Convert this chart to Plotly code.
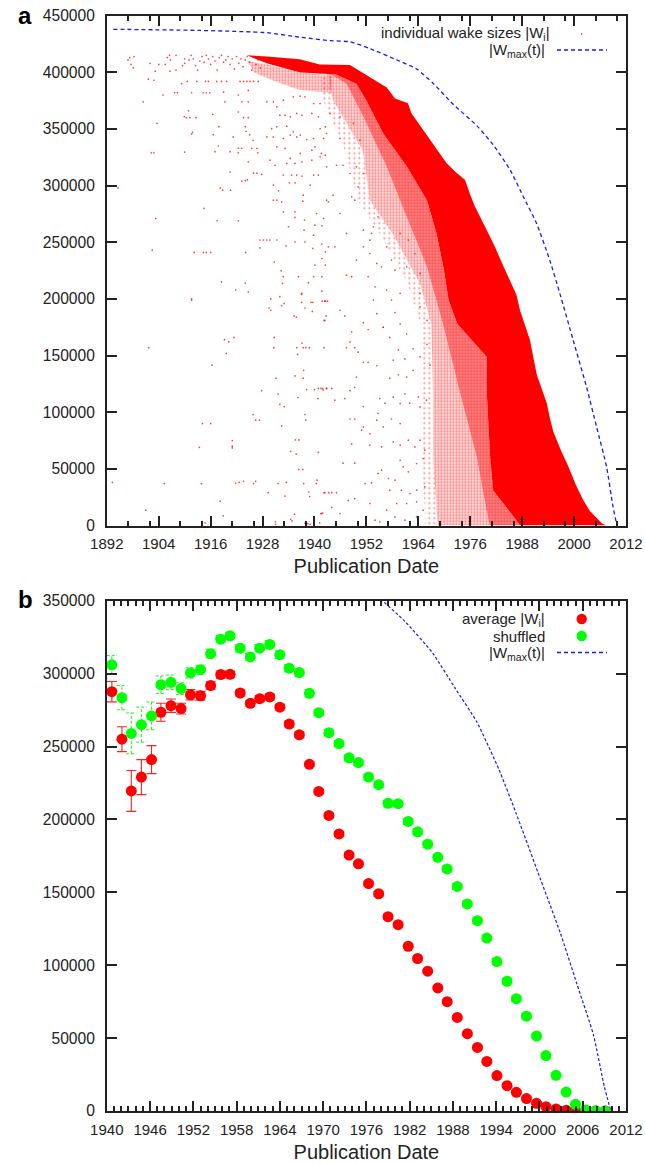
import plotly.graph_objects as go

W, H = 645, 1163
INK = "#222222"

# ---------- panel a: envelope of the dense cloud (year, thousands)
upper_years = [1924.4,1929,1936.6,1941.2,1948.2,1950.5,1952.8,1954.8,1956.7,1958.6,1960,1961.6,1962.4,1964.8,1967.1,1968.8,1970.5,1972.6,1974.8,1976,1977.1,1979.4,1981.7,1983.4,1985.2,1986.7,1987.5,1988.6,1989.8,1990.6,1991.4,1992.5,1993.7,1994.4,1995.2,1997,1998.7,2000.4,2002.1,2003.6,2005.2,2006.4,2007.5]
upper_k = [415,414,411.6,407,406.5,401,395.6,391,386.7,377,375,372.7,364,351,338.8,329,319.9,312,305,292,281.4,264,246,231,216.7,203.5,190,177,163.7,148,132.8,121,108,95,82.8,66,51.9,36,22.5,13,6.3,2,0]
solid_low_years = [1987.5,1986,1981.3,1980.6,1979.8,1979.8,1973,1971,1969.8,1968.2,1966,1961.3,1955.9,1952,1949.7,1945,1936.6,1929]
solid_low_k = [0,8,31,60,119,149,178,199,228,258,287,317,346,375,390,398,400,408]
mid_years = [1944,1947.4,1951.3,1956.7,1961.3,1966,1969.7,1973.5,1977.5,1979.8,1980.5]
mid_k = [397.6,390,360.7,316.6,272.5,228.4,178,119.4,60.6,16.5,0]
outer_years = [1943,1944.3,1951.2,1952.8,1958,1964.4,1967,1967.4,1967.4,1968.3,1968.5]
outer_k = [398,375.4,331,287,258,213.7,178,119,60.6,16.5,0]
fringe_years = [1941.5,1942,1947,1950,1955,1961.5,1964.5,1964.5,1964.5,1965.5,1965.5]
fringe_k = [398,375.4,331,287,258,213.7,178,119,60.6,16.5,0]
wedge_years = [1924.5,1929,1936.6,1944,1944,1940,1936,1931,1926]
wedge_k = [410,407,400,397,382,383,385,392,400]

# ---------- panel a: individually read points
sparse_years = [1896.9,1897.3,1897.6,1898.1,1898.3,1902,1903.2,1904,1905.5,1906,1906.5,1906.7,1906.6,1908,1908,1909.5,1910,1910,1911,1911.5,1912,1912.5,1913,1913.5,1914,1914.5,1915,1915.5,1916,1916.5,1917,1917.5,1918,1918.5,1919,1919.5,1920,1920.5,1921,1921.5,1922,1922.5,1923,1923.5,1924,1924.5,1925,1925.5,1926,1926.5,1927,1927.5,
1901.6,1902.9,1909.3,1910.6,1912.8,1914.8,1915.5,1917.4,1918.5,1919.7,1922.8,1923.6,1924.4,1925.1,1925.9,1927,
1907.7,1908.3,1911.6,1914.3,1915,1915.8,1919,1922.4,1924.7,1900.4,1905,1919.3,1923.2,1924.7,1922.4,1923.6,1924.7,
1910.9,1909.9,1910.4,1911.2,1912.6,1916.5,1903.6,1917.9,1911.8,1911.6,1916.6,1921.2,1924,1924.2,1925,1925.8,
1917.8,1917,1922.4,1923.2,1925.5,1926.7,1902.3,1902.9,1910,1920.5,1922.4,1926.9,1924.7,1920.5,1925.9,1926.7,1927.8,1923.2,1924,1924.5,
1894.6,1918.2,1918.8,1920.6,1914.5,1903.3,1917.5,1922.4,1902.5,1912.2,1914.3,1915,1916,1924.1,1927.4,1928.2,1929,1929.7,1931.3,1927.4,1918.5,1921.8,1924,1924.7,1911.6,
1931.3,1932.8,1933.2,1935.1,1936.7,1937.8,1939.8,1941.3,1932,1934.4,1935.9,1937.1,1939.4,1940.9,1929,1930.5,
1930.1,1931.3,1933.6,1935.1,1936.7,1938.2,1939.8,1942.1,1929,1930.5,1932.8,1934.4,1935.9,1941.3,1942.5,
1931.3,1933.2,1934.4,1936.7,1940.1,1939.4,1929.7,1930.9,1933.6,1935.5,1937.1,1939.4,1941.3,1942.5,1932.8,1934.7,1935.9,1937.1,1939.8,1940.9,1930.5,1931.7,1934.2,1935.5,1939,1937.4,1930.5,1931.3,1932.4,1943.2,1937.3,
1932.8,1935.5,1934,1935.5,1937.7,1940.5,1940.1,1941.7,1939.8,1937.6,1942.1,1935.5,1937.8,1933.4,1939.6,1941.7,1942.5,1941.7,1940.1,1942.5,1930.7,1932.3,1932.8,1936.3,1939.8,1941.7,1932.6,1938.6,1937.1,1941.7,
1943.6,1942.8,1945.9,1941.6,1942.8,1945.1,1946.6,1945.9,1949,1950.5,1949.7,1948.2,1951.3,1948.6,1949.3,1950.1,1942.8,1944.3,1945.9,1947.4,1943.2,1944.7,1948.6,1947.4,1949.7,1951.3,1951.3,1953.6,1952.8,1952.4,1954,1956.7,1955.5,1957.8,1959.8,1961.7,1959.8,1964.4,1952.8,1954.4,1953.2,1954.7,1956.7,1958.6,1961.3,1963.2,1964.4,
1911.6,1901.7,1916.3,1919.2,1920.2,1921.4,1919.6,1930.7,1930.6,1929.5,1929.9,1929.9,1932,1932.4,1933,1937,1937,1939.2,1939.6,1937.8,1941.8,1942.5,1943,1939.5,1935.3,1935.8,1942.7,1942.2,1937.1,1935.9,1937.4,1938,1938.8,1936.1,1942.2,
1937.5,1935.5,1937.4,1931.1,1927.8,1938.2,1940,1940.9,1941.5,1941.9,1942.8,1931.6,1936.2,1940.8,1932,1933,1925.8,1926.4,1927.3,1937.8,1938,1914.1,1916,1932.4,1921,1921,1921,1913.4,1935.6,1936.4,1934.5,1935.8,1940.9,1936.4,1937.3,
1893.3,1905.3,1913.9,1921.8,1922.6,1923.6,1925.9,1926.4,1931.6,1933.5,1937.5,1940.4,1940.6,1929.3,1938.7,1942.2,1943.3,1938.9,1933.2,1918.2,1901,1918.9,1935.4,1941.5,1941.9,1934.5,1934.8,1914.7,1931,1931,1937.8,1938.2,1938.5,1939,1941.2,
1942.4,1945.9,1947,1942.4,1948.6,1951.3,1952.4,1953.6,1954.4,1955.9,1957.8,1958.6,1959.8,1961.3,1964.4,1966,1948.2,1947.4,1949.3,1950.1,1951.3,1952.4,1954.4,1955.9,1957.4,1959.4,1958.2,1960.9,1962.8,1964.4,1966,1966.7,1962.8,1961.3,1959.4,1957.4,1949.7,1949.3,1948.2,
1942.8,1944,1942,1944.7,1947,1951.3,1948.2,1949.3,1955.1,1954.7,1956.3,1958.2,1959.8,1960.9,1962,1964,1964.4,1965.9,1954.4,1955.9,1957.8,1959.8,1951.3,1950.9,1952.8,1948.6,1952.8,1955.5,1958.2,1959.8,1961.7,1963.2,1964.4,1965.5,1946.6,1949.3,1954.7,1955.5,1957.1,1958.6,1959.8,1960.5,1961.7,1963.6,1965.1,1951.7,1953.2,1957.4,1960.1,1962.1,1963.6,1965.5,1942.4,1944,1945.1,1947.8,1949.3,1944,1941.6,1945.9,1952.8,1956.7,1959,1961.3,1963.6,1965.1,1954,1955.1,1958.6,1960.9,1963.6]
sparse_k = [411,413,407,404,414,408,401,407,407,413,415,411,401,402,415,406,408,412,411,415,412,406,402,410,414,409,415,412,407,414,410,402,413,415,409,411,414,407,412,403,414,408,412,405,411,414,409,402,413,407,411,404,
394,393,390,392,392,392,392,392,392,392,392,392,392,392,392,392,
382,382,382,382,382,382,382.5,380,384,374,380,374,374,374,365,360,360,
366,361,360,360,360,363,355,352,347,345.5,345,343,352,348,345,340,
335,330,333,333,333,333,329,329,329.6,330,329,329,321,312,311,311,310,304,304.5,305,
298,298,296,296,280,271,269,269,243,241,241,241,241,241,252,252,252,252,252,245,215,208,214,206,200,
369.6,375.4,362.2,378.4,379,378.4,372.5,372.5,362.2,360.7,363.7,362.2,363.7,360.7,374,374,
350.4,351.9,352.5,347.5,344.6,340.7,341.6,341.6,343,343,341.6,344.6,343,350.4,351.9,
334.3,332.8,324,328.4,334.3,331.3,322.5,318,319.6,319.6,321,322.5,325.4,326.9,309.3,309.3,309.3,308.4,309.3,309.3,300.4,295.4,302.5,302.5,300.4,291.6,287.2,287.2,285.7,285.7,286.3,
276.9,276.9,263.7,271.9,269.6,275.4,265.1,264.6,256.3,260.7,271,250.4,250.4,246.9,244.6,248.4,241.6,235.7,229.9,229.9,232.5,224.9,219.6,219.6,219.6,219.6,213.7,214.3,204.9,206.9,
363.7,346,341.6,328.4,316.6,318,318,360.7,354.9,340.1,316.6,310.7,310.7,290.1,287.2,299,287.2,291.6,275.4,257.8,246,246,219.6,221,234.3,246,260.7,263.7,251.9,219.6,210.7,207.8,228.4,234.3,257.8,251.9,204.9,204.9,240.1,231.3,257.8,272.5,246,225.4,228.4,240.1,222.5,
199,157,141.5,164,162,166,152,166,157,192,190,200,202,194,196,204,197,197,197,192,198,198,198,189,185,184,185,181,161,157,157,157,157,151,157,
137,132,130,130,119,120,120,121,121,121,121,116,113,112,107,105,98,93,93,98,93,90,90,88,75,70,68.5,69,75.5,75.5,65.5,63,64.5,49.5,49.5,
38,37,37,37.5,38,39,37,39,37,38,37,37,40,29,29.5,29,29,25.6,26,21.5,13.5,8.5,10,10.5,11,5.5,4,2.4,3.2,1,2,2,1.5,1,2.4,
198,190,185,181,171,179,173,199,187,175,199,188,178,169,193,181,162,157,157,153,144,144,141,175,166,155,146,147,156,149,160,141.5,137,131,133,130,131,122,119,
121,121,119.5,110.6,112,105,94,94,112,99,108,113.5,107.6,116,108,113.5,104.7,110.6,93,87,94,90,87,84.1,81,72,71,69.4,73.8,70.9,75.3,69.4,75.3,66.5,55,55,46,48.8,41.5,40,57.6,51.8,47.4,54.7,59.1,37,37.6,31.2,31.2,28.2,31.2,34.1,29,29,29,22,23.8,16,10.6,10.6,19.4,13.5,19.4,19.4,20.9,13.5,4.7,3.2,7.6,4.7,7.6]

# ---------- W_max(t), shared by both panels
wmax_years = [1893.5,1913.5,1929,1936.7,1943.6,1948.2,1952.8,1959,1963.6,1967.5,1972,1977.5,1981.3,1985.2,1988.3,1991.3,1994.4,1996.7,1999.8,2002.9,2005.2,2007.5,2009,2009.9]
wmax_k = [438,437,435,431,428,427,421,411,403,390,372,353,336,314,290,267,234,205,163.5,122,87,52,16.5,0]

# ---------- panel b
bin_years = [1940.7,1942.1,1943.4,1944.8,1946.2,1947.5,1948.9,1950.3,1951.6,1953.0,1954.4,1955.8,1957.1,1958.5,1959.9,1961.2,1962.6,1964.0,1965.3,1966.7,1968.1,1969.4,1970.8,1972.2,1973.6,1974.9,1976.3,1977.7,1979.0,1980.4,1981.8,1983.1,1984.5,1985.9,1987.2,1988.6,1990.0,1991.4,1992.7,1994.1,1995.5,1996.8,1998.2,1999.6,2000.9,2002.3,2003.7,2005.0,2006.4,2007.8,2009.1]
average_k = [287.6,255,219.5,229,241,273.5,278,276,285.5,284.8,291.8,299.3,299.5,286.7,279.6,282.8,284,277,265.4,258,237.8,219.2,202.7,190,175.5,169.5,156,149,133.3,127.8,113,104.6,95.9,84.4,75,64.2,53,43.6,34,24.3,17.4,12.8,8.5,5.3,3,1.4,0.5,0.2,0.1,0,0]
average_err = [7,8.5,14,12,9.6,6.2,4.6,3.7,3.6,3,2.5,2.5,2,2,2,2,2,2,2,2,1.5,1.5,1.5,1.5,1.5,1.5,1.5,1.5,1.5,1.5,1,1,1,1,1,1,1,1,1,1,1,1,1,1,0.5,0.5,0.5,0.5,0.2,0.2,0.2]
shuffled_k = [306,283.5,259,265,271,292.4,294,289.7,300.5,302.7,313.7,323.6,325.9,317.4,311.4,317.4,320,313,303.7,300.7,286.5,273.2,259.5,252,242.2,239,229,223.8,211,210.8,198.6,191.5,183,174,166,154,142,130.5,118.6,102.5,89,77,65,51.4,38,24.5,13,4.6,0.7,0.1,0]
shuffled_err = [6.5,8.3,14,12,9.5,6,5,4,3.5,3,3,2.5,2.5,2.5,2.5,2.5,2.5,2.5,2.5,2.5,2.5,2,2,2,2,2,2,2,2,2,2,2,2,2,2,2,2,2,2,2,2,2,2,1.5,1.5,1.5,1,1,0.5,0.3,0.2]

ticks_a_major = [1892,1904,1916,1928,1940,1952,1964,1976,1988,2000,2012]
ticks_a_minor = [1897,1902,1909,1914,1921,1926,1933,1938,1945,1950,1957,1962,1969,1974,1981,1986,1993,1998,2005,2010]
ticks_b_major = [1940,1946,1952,1958,1964,1970,1976,1982,1988,1994,2000,2006,2012]
ticks_b_minor = [y for y in range(1940, 2013) if (y - 1940) % 6]
ticks_a_y = [0,50000,100000,150000,200000,250000,300000,350000,400000,450000]
ticks_b_y = [0,50000,100000,150000,200000,250000,300000,350000]

def k(values):
    return [v * 1000 for v in values]

def px(x):
    return x / W

def py(y):
    return 1 - y / H

fig = go.Figure()

def band(xs, ys, pattern=None):
    style = dict(fill="toself", mode="lines", line=dict(width=0), hoverinfo="skip", showlegend=False)
    if pattern:
        style["fillpattern"] = dict(shape=".", size=pattern[0], solidity=pattern[1], fgcolor="#ff0000", bgcolor=pattern[2])
        style["fillcolor"] = "rgba(0,0,0,0)"
    else:
        style["fillcolor"] = "#ff0000"
    fig.add_trace(go.Scatter(x=xs, y=k(ys), **style))

band(fringe_years + outer_years[::-1], fringe_k + outer_k[::-1], (5, 0.12, "rgba(0,0,0,0)"))
band(outer_years + mid_years[::-1], outer_k + mid_k[::-1], (3, 0.3, "rgba(255,0,0,0.14)"))
band(wedge_years, wedge_k, (3, 0.3, "rgba(255,0,0,0.14)"))
band(mid_years + solid_low_years, mid_k + solid_low_k, (3, 0.6, "rgba(255,0,0,0.4)"))
band(upper_years + solid_low_years, upper_k + solid_low_k)

fig.add_trace(go.Scatter(x=sparse_years, y=k(sparse_k), mode="markers", showlegend=False,
                         marker=dict(size=1.7, color="#ff0000", opacity=0.75, line=dict(width=0))))
fig.add_trace(go.Scatter(x=wmax_years, y=k(wmax_k), mode="lines", showlegend=False,
                         line=dict(color="#1a1aee", width=1.3, dash="4px,3px", shape="spline", smoothing=0.5)))

# panel b
fig.add_trace(go.Scatter(x=wmax_years, y=k(wmax_k), mode="lines", showlegend=False, xaxis="x2", yaxis="y2",
                         line=dict(color="#1a1aee", width=1.2, dash="3px,2px", shape="spline", smoothing=0.5)))
fig.add_trace(go.Scatter(x=bin_years, y=k(average_k), mode="markers", showlegend=False, xaxis="x2", yaxis="y2",
                         marker=dict(size=11, color="#ff0000", line=dict(width=0)),
                         error_y=dict(type="data", array=k(average_err), color="#ff2222", thickness=1.1, width=5)))
cap = 0.72
ex, ey = [], []
for yr, v, e in zip(bin_years, shuffled_k, shuffled_err):
    ex += [yr, yr, None, yr - cap, yr + cap, None, yr - cap, yr + cap, None]
    ey += [v - e, v + e, None, v + e, v + e, None, v - e, v - e, None]
fig.add_trace(go.Scatter(x=ex, y=[None if v is None else v * 1000 for v in ey], mode="lines", showlegend=False,
                         xaxis="x2", yaxis="y2", line=dict(color="#22ee22", width=1, dash="3px,2px")))
fig.add_trace(go.Scatter(x=bin_years, y=k(shuffled_k), mode="markers", showlegend=False, xaxis="x2", yaxis="y2",
                         marker=dict(size=11, color="#00ff00", line=dict(width=0))))

tickfont_x = dict(family="Liberation Sans", size=15, color=INK)
tickfont_y = dict(family="Liberation Sans", size=15.6, color=INK)
common = dict(showgrid=False, zeroline=False, showline=True, mirror="ticks", linecolor=INK, linewidth=1.6,
              ticks="inside", tickcolor=INK, tickwidth=1.5, automargin=False)

def xaxis(major, minor, lo, hi, left, right, anchor):
    return dict(common, domain=[px(left), px(right)], range=[lo, hi], tickmode="array", tickvals=major,
                ticklen=10, tickfont=tickfont_x, anchor=anchor, ticklabelstandoff=4,
                minor=dict(tickmode="array", tickvals=minor, ticks="inside", ticklen=5, tickwidth=1.5, tickcolor=INK, showgrid=False),
                title=dict(text="Publication Date", standoff=8, font=dict(family="Liberation Sans", size=20, color=INK)))

def yaxis(vals, hi, bottom, top, anchor):
    return dict(common, domain=[py(bottom), py(top)], range=[0, hi], tickmode="array", tickvals=vals, tickformat="d",
                ticklen=10, tickfont=tickfont_y, anchor=anchor, ticklabelstandoff=7)

annos = []
def text(x, y, s, size=15, anchor="right", bold=False):
    annos.append(dict(xref="paper", yref="paper", x=px(x), y=py(y), text=f"<b>{s}</b>" if bold else s, showarrow=False,
                      xanchor=anchor, yanchor="middle", font=dict(family="Liberation Sans", size=size, color=INK if not bold else "#000")))
text(16, 15, "a", 24, "left", True)
text(16, 599, "b", 24, "left", True)
text(552, 33, "individual wake sizes |W<sub>i</sub>|")
text(547, 50, "|W<sub>max</sub>(t)|")
text(547, 619, "average |W<sub>i</sub>|")
text(547, 636, "shuffled")
text(547, 653, "|W<sub>max</sub>(t)|")

def dash_key(y):
    return dict(type="line", xref="paper", yref="paper", x0=px(557), x1=px(607), y0=py(y), y1=py(y),
                line=dict(color="#1a1aee", width=1.3, dash="4px,3px"))
def dot_key(y, color, r):
    return dict(type="circle", xref="paper", yref="paper", x0=px(581.7 - r), x1=px(581.7 + r), y0=py(y - r), y1=py(y + r),
                fillcolor=color, line=dict(width=0))

fig.update_layout(
    width=W, height=H, margin=dict(l=0, r=0, t=0, b=0, autoexpand=False), paper_bgcolor="white", plot_bgcolor="white",
    showlegend=False,
    xaxis=xaxis(ticks_a_major, ticks_a_minor, 1892, 2012, 106.8, 626, "y"),
    yaxis=yaxis(ticks_a_y, 450000, 525.5, 15.7, "x"),
    xaxis2=xaxis(ticks_b_major, ticks_b_minor, 1940, 2012, 106.8, 626, "y2"),
    yaxis2=yaxis(ticks_b_y, 350000, 1111, 600.7, "x2"),
    annotations=annos,
    shapes=[dash_key(50), dash_key(652.5), dot_key(34, "#ff0000", 0.8), dot_key(619, "#ff0000", 5.2), dot_key(636, "#00ff00", 5.2)],
)

fig.write_html("out.html", config={"displayModeBar": False},
               post_script="document.body.style.margin='0';document.documentElement.style.overflow='hidden';")
